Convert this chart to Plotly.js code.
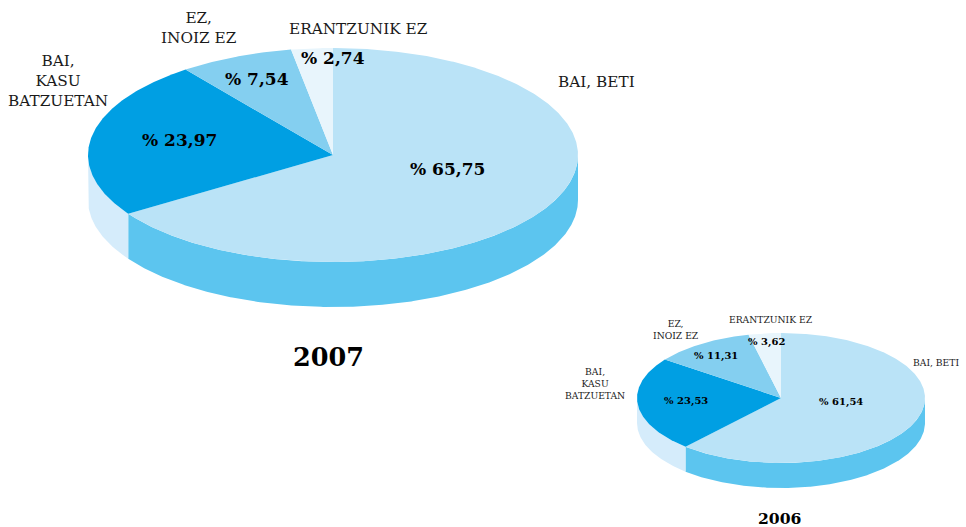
<!DOCTYPE html>
<html>
<head>
<meta charset="utf-8">
<script src="https://cdn.plot.ly/plotly-3.0.1.min.js"></script>
<style>html,body{margin:0;padding:0;background:#fff}#c{width:966px;height:527px}</style>
</head>
<body>
<div id="c"></div>
<script>
const categories = ["BAI, BETI", "BAI, KASU BATZUETAN", "EZ, INOIZ EZ", "ERANTZUNIK EZ"];
const values2007 = [65.75, 23.97, 7.54, 2.74];
const values2006 = [61.54, 23.53, 11.31, 3.62];
const valueText2007 = ["% 65,75", "% 23,97", "% 7,54", "% 2,74"];
const valueText2006 = ["% 61,54", "% 23,53", "% 11,31", "% 3,62"];
const years = ["2007", "2006"];

const topColors = ["#bae3f7", "#009fe3", "#84cff0", "#e8f5fc"];
const sideColors = ["#5cc5ef", "#d5ecfb"];
const serif = "DejaVu Serif";

const geom2007 = {cx: 333, cy: 155, rx: 245, ry: 107, depth: 45};
const geom2006 = {cx: 781, cy: 398, rx: 144, ry: 65, depth: 25};

function arc(g, a0, a1, dy) {
  const n = Math.max(2, Math.ceil(Math.abs(a1 - a0) / 0.5));
  const xs = [], ys = [];
  for (let i = 0; i <= n; i++) {
    const t = (a0 + (a1 - a0) * i / n) * Math.PI / 180;
    xs.push(g.cx + g.rx * Math.sin(t));
    ys.push(g.cy - g.ry * Math.cos(t) + dy);
  }
  return [xs, ys];
}
function poly(xs, ys, color) {
  return {type: "scatter", mode: "lines", x: xs, y: ys, fill: "toself", fillcolor: color,
          line: {width: 0, color: color}, hoverinfo: "skip", showlegend: false};
}
function pie3d(values, g) {
  const traces = [];
  const total = values.reduce((a, b) => a + b, 0);
  const split = values[0] / total * 360;
  // visible wall: right-hand edge (90 deg) round the front to the left-hand edge (270 deg)
  [[90, split, sideColors[0]], [split, 270, sideColors[1]]].forEach(([a, b, col]) => {
    const up = arc(g, a, b, 0), dn = arc(g, b, a, g.depth);
    traces.push(poly(up[0].concat(dn[0]), up[1].concat(dn[1]), col));
  });
  let acc = 0;
  values.forEach((v, i) => {
    const a0 = acc / total * 360; acc += v;
    const a1 = acc / total * 360;
    const p = arc(g, a0, a1, 0);
    traces.push(poly([g.cx].concat(p[0], [g.cx]), [g.cy].concat(p[1], [g.cy]), topColors[i]));
  });
  return traces;
}

function note(text, x, y, size, bold, align) {
  return {text: bold ? "<b>" + text + "</b>" : text, x: x, y: y, xref: "x", yref: "y",
          showarrow: false, xanchor: "center", yanchor: "middle", align: align || "center",
          font: {family: serif, size: size, color: bold ? "#000000" : "#1a1a1a"}};
}

const annotations = [
  note(valueText2007[0], 447, 169, 17, true),
  note(valueText2007[1], 179, 140, 17, true),
  note(valueText2007[2], 257, 79, 17, true),
  note(valueText2007[3], 333, 58, 17, true),
  note(categories[0], 596, 82, 15.3, false),
  note("BAI,<br>KASU<br>BATZUETAN", 58, 81, 15.3, false),
  note("EZ,<br>INOIZ EZ", 199, 28, 15.3, false),
  note(categories[3], 358, 29, 15.3, false),
  note(years[0], 328, 357, 25.5, true),

  note(valueText2006[0], 841, 402, 10, true),
  note(valueText2006[1], 686, 401, 10, true),
  note(valueText2006[2], 716, 356, 10, true),
  note(valueText2006[3], 766, 342, 10, true),
  note(categories[0], 936, 362, 9.2, false),
  note("BAI,<br>KASU<br>BATZUETAN", 595, 383, 9.2, false),
  note("EZ,<br>INOIZ EZ", 676, 329, 9.2, false),
  note(categories[3], 771, 319, 9.2, false),
  note(years[1], 780, 518, 15.6, true)
];

const layout = {
  width: 966, height: 527,
  margin: {l: 0, r: 0, t: 0, b: 0},
  paper_bgcolor: "#ffffff", plot_bgcolor: "#ffffff",
  showlegend: false,
  xaxis: {range: [0, 966], visible: false, fixedrange: true},
  yaxis: {range: [527, 0], visible: false, fixedrange: true},
  annotations: annotations
};
Plotly.newPlot("c", pie3d(values2007, geom2007).concat(pie3d(values2006, geom2006)), layout,
               {displayModeBar: false, staticPlot: true});
</script>
</body>
</html>
